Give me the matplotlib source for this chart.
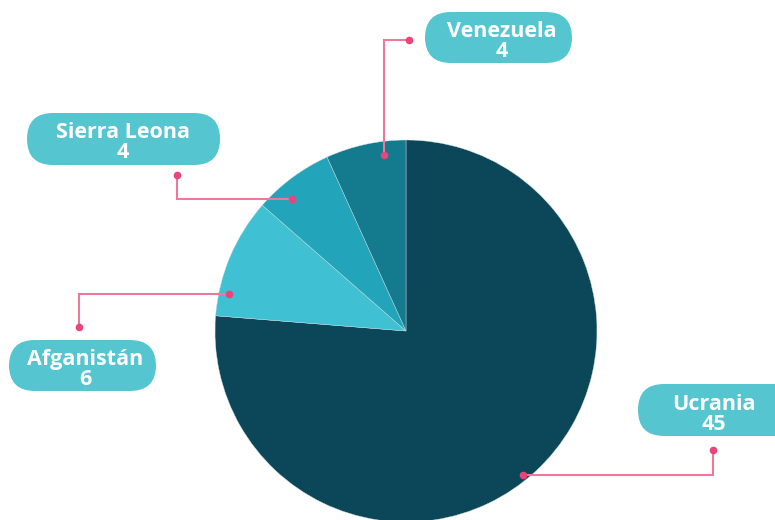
import matplotlib.pyplot as plt
from matplotlib.patches import FancyBboxPatch

paises = ["Ucrania", "Afganistán", "Sierra Leona", "Venezuela"]
valores = [45, 6, 4, 4]
colores = ["#0c4659", "#3fc1d3", "#22a5ba", "#147a8e"]

H = 520  # figure height in px, y flipped so we can read coords off the image


def fy(y):
    return H - y


fig = plt.figure(figsize=(7.75, 5.2), dpi=100)
ax = fig.add_axes([0, 0, 1, 1])

ax.pie(valores, colors=colores, startangle=90, counterclock=False,
       center=(406, fy(331)), radius=191,
       wedgeprops=dict(edgecolor="#c9dde2", linewidth=0.3))

ax.set_xlim(0, 775)
ax.set_ylim(0, H)
ax.set_aspect("equal")
ax.axis("off")

# label boxes (x0, y0, x1, y1 in image px) and leader paths
cajas = {
    "Venezuela": (425, 12, 572, 63),
    "Sierra Leona": (27, 113, 220, 165),
    "Afganistán": (9, 340, 156, 391),
    "Ucrania": (638, 384, 800, 436),
}
guias = {
    "Venezuela": [(384, 155), (384, 40), (409, 40)],
    "Sierra Leona": [(292, 199), (177, 199), (177, 175)],
    "Afganistán": [(229, 294), (79, 294), (79, 327)],
    "Ucrania": [(523, 475), (713, 475), (713, 450)],
}
centros = {"Ucrania": 714, "Venezuela": 502, "Sierra Leona": 123, "Afganistán": 85}

for nombre, valor in zip(paises, valores):
    x0, y0, x1, y1 = cajas[nombre]
    ax.add_patch(FancyBboxPatch((x0, fy(y1)), x1 - x0, y1 - y0,
                                boxstyle="round,pad=0,rounding_size=26",
                                facecolor="#55c5cf", edgecolor="none",
                                clip_on=False))
    cx = centros.get(nombre, (x0 + x1) / 2)
    cy = (y0 + y1) / 2
    ax.text(cx, fy(cy - 6), nombre, ha="center", va="center", color="white",
            fontsize=15.5, fontweight="bold", family="Open Sans")
    ax.text(cx, fy(cy + 14), str(valor), ha="center", va="center",
            color="white", fontsize=15.5, fontweight="bold", family="Open Sans")

    pts = guias[nombre]
    ax.plot([p[0] for p in pts], [fy(p[1]) for p in pts], color="#f0779a",
            linewidth=1.5, solid_joinstyle="miter")
    for p in (pts[0], pts[-1]):
        ax.plot(p[0], fy(p[1]), "o", color="#e8457a", markersize=4.5)

fig.savefig("out.png", dpi=100)
